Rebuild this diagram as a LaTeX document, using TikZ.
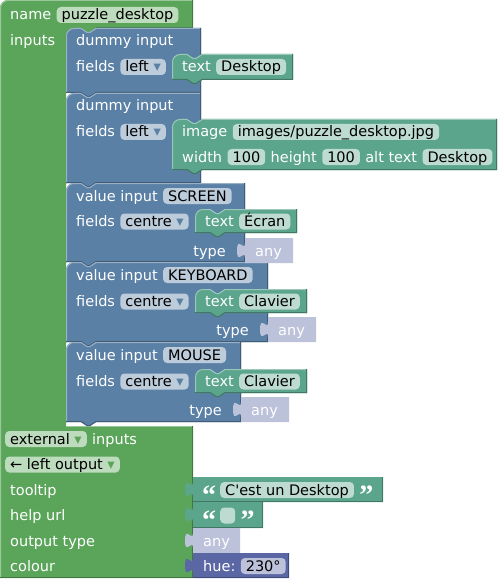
\documentclass[tikz,border=0pt]{standalone}
\usepackage{fontspec}
\setmainfont{DejaVu Sans}[Ligatures=TeXOff]
\newfontfamily\qfont{Liberation Serif}[Ligatures=TeXOff]
\definecolor{cgreen}{HTML}{5BA55B}
\definecolor{cblue}{HTML}{5B80A5}
\definecolor{cteal}{HTML}{5BA58C}
\definecolor{cpurple}{HTML}{5B67A5}
\definecolor{cany}{HTML}{BDC2DB}
\definecolor{fgreen}{HTML}{BDDBBD}
\definecolor{fblue}{HTML}{BDCCDB}
\definecolor{fteal}{HTML}{BDDBD1}
\definecolor{fpurple}{HTML}{BDC2DB}
\newcommand\stmt[5]{%
 \fill[#5] (#1,#4) -- (#1,#2+8) .. controls (#1,#2+3.6) and (#1+3.6,#2) .. (#1+8,#2) -- (#1+15,#2) -- (#1+21,#2+4) -- (#1+24,#2+4) -- (#1+30,#2) -- (#3,#2) -- (#3,#4) -- (#1+30,#4) -- (#1+24,#4+4) -- (#1+21,#4+4) -- (#1+15,#4) -- cycle;
 \draw[#5!62!white, line width=1pt] (#1+0.5,#4) -- (#1+0.5,#2+8) .. controls (#1+0.5,#2+4) and (#1+4,#2+0.5) .. (#1+8,#2+0.5) -- (#1+15,#2+0.5) -- (#1+21,#2+4.5) -- (#1+24,#2+4.5) -- (#1+30,#2+0.5) -- (#3-1,#2+0.5);
 \draw[#5!72!black, line width=1pt] (#1,#4-0.5) -- (#1+15,#4-0.5) -- (#1+21,#4+3.5) -- (#1+24,#4+3.5) -- (#1+30,#4-0.5) -- (#3-0.5,#4-0.5) -- (#3-0.5,#2);}
\newcommand\valb[6]{%
 \fill[#5] (#1,#2) -- (#3,#2) -- (#3,#4) -- (#1,#4) -- (#1,#2+20) .. controls (#1,#2+10) and (#1-8,#2+28) .. (#1-8,#2+12.5) .. controls (#1-8,#2-3) and (#1,#2+15) .. (#1,#2+5) -- cycle;
 \draw[#6, line width=1pt] (#1,#4-0.5) -- (#3-0.5,#4-0.5) -- (#3-0.5,#2);}
\tikzset{
 lbl/.style={inner sep=0pt, anchor=base west, text=white, font=\fontsize{14.5}{17}\selectfont},
 fld/.style={fill=#1, inner xsep=5pt, inner ysep=0pt, text height=13pt, text depth=3pt, rounded corners=4pt, anchor=base west, text=black, font=\fontsize{14.5}{17}\selectfont},
 qt/.style={inner sep=0pt, anchor=base west, text=white, font=\fontsize{28}{28}\qfont\bfseries},
}
\begin{document}
\begin{tikzpicture}[x=1pt,y=-1pt]
\useasboundingbox (0,0) rectangle (499,580);
% main block
\fill[cgreen] (0,578) -- (0,8) .. controls (0,3.6) and (3.6,0) .. (8,0) -- (193,0) -- (193,28) -- (96,28) -- (90,32) -- (87,32) -- (81,28) -- (74,28) .. controls (69.6,28) and (66,31.6) .. (66,36) -- (66,426) -- (193,426) -- (193,578) -- cycle;
\draw[cgreen!62!white, line width=1pt] (0.5,577) -- (0.5,8) .. controls (0.5,4) and (4,0.5) .. (8,0.5) -- (192,0.5);
\draw[cgreen!62!white, line width=1pt] (66,426.5) -- (192,426.5);
\draw[cgreen!72!black, line width=1pt] (192.5,0) -- (192.5,27.5) -- (96,27.5);
\draw[cgreen!72!black, line width=1pt] (0,577.5) -- (192.5,577.5) -- (192.5,426);
% input blocks
\stmt{66}{28}{201}{93}{cblue}
\stmt{66}{93}{201}{183}{cblue}
\stmt{66}{183}{245}{262}{cblue}
\stmt{66}{262}{268}{342}{cblue}
\stmt{66}{342}{241}{422}{cblue}
% field blocks
\stmt{172}{54}{293}{80}{cteal}
\stmt{172}{119}{497}{170}{cteal}
\stmt{195}{209}{297}{233}{cteal}
\stmt{195}{289}{307}{313}{cteal}
\stmt{195}{369}{307}{393}{cteal}
% type blocks
\valb{245}{238}{293}{263}{cany}{cany}
\valb{268}{317}{316}{342}{cany}{cany}
\valb{241}{397}{289}{422}{cany}{cany}
% bottom value blocks
\valb{193}{477}{383}{502}{cteal}{cteal!72!black}
\valb{193}{502}{263}{528}{cteal}{cteal!72!black}
\valb{193}{528}{240}{553}{cany}{cany}
\valb{193}{553}{289}{578}{cpurple}{cpurple!72!black}

% main texts
\node[lbl] (name) at (10,20) {name};
\node[fld=fgreen] (namev) at ([xshift=5pt]name.base east) {puzzle\_desktop};
\node[lbl] (inputs) at (10,46) {inputs};

% B1
\node[lbl] (d1) at (76,46) {dummy input};
\node[lbl] (f1) at (76,72) {fields};
\node[fld=fblue] (f1v) at ([xshift=5pt]f1.base east) {left~\textcolor{cblue}{▾}};
\node[lbl] (t1) at (182,72) {text};
\node[fld=fteal] (t1v) at ([xshift=5pt]t1.base east) {Desktop};

% B2
\node[lbl] (d2) at (76,111) {dummy input};
\node[lbl] (f2) at (76,137) {fields};
\node[fld=fblue] (f2v) at ([xshift=5pt]f2.base east) {left~\textcolor{cblue}{▾}};
\node[lbl] (im) at (182,137) {image};
\node[fld=fteal] (imv) at ([xshift=5pt]im.base east) {images/puzzle\_desktop.jpg};
\node[lbl] (wd) at (182,162) {width};
\node[fld=fteal] (wdv) at ([xshift=5pt]wd.base east) {100};
\node[lbl] (ht) at ([xshift=5pt]wdv.base east) {height};
\node[fld=fteal] (htv) at ([xshift=5pt]ht.base east) {100};
\node[lbl] (alt) at ([xshift=5pt]htv.base east) {alt text};
\node[fld=fteal] (altv) at ([xshift=5pt]alt.base east) {Desktop};

% B3
\node[lbl] (v3) at (76,201) {value input};
\node[fld=fblue] (v3v) at ([xshift=5pt]v3.base east) {SCREEN};
\node[lbl] (f3) at (76,226.5) {fields};
\node[fld=fblue] (f3v) at ([xshift=5pt]f3.base east) {centre~\textcolor{cblue}{▾}};
\node[lbl] (t3) at (205,226.5) {text};
\node[fld=fteal] (t3v) at ([xshift=5pt]t3.base east) {Écran};
\node[lbl, anchor=base east] (ty3) at (226,256) {type};
\node[lbl] (a3) at (255,256) {any};

% B4
\node[lbl] (v4) at (76,280) {value input};
\node[fld=fblue] (v4v) at ([xshift=5pt]v4.base east) {KEYBOARD};
\node[lbl] (f4) at (76,306.5) {fields};
\node[fld=fblue] (f4v) at ([xshift=5pt]f4.base east) {centre~\textcolor{cblue}{▾}};
\node[lbl] (t4) at (205,306.5) {text};
\node[fld=fteal] (t4v) at ([xshift=5pt]t4.base east) {Clavier};
\node[lbl, anchor=base east] (ty4) at (249,335.5) {type};
\node[lbl] (a4) at (278,335.5) {any};

% B5
\node[lbl] (v5) at (76,360) {value input};
\node[fld=fblue] (v5v) at ([xshift=5pt]v5.base east) {MOUSE};
\node[lbl] (f5) at (76,386.5) {fields};
\node[fld=fblue] (f5v) at ([xshift=5pt]f5.base east) {centre~\textcolor{cblue}{▾}};
\node[lbl] (t5) at (205,386.5) {text};
\node[fld=fteal] (t5v) at ([xshift=5pt]t5.base east) {Clavier};
\node[lbl, anchor=base east] (ty5) at (222,415.5) {type};
\node[lbl] (a5) at (251,415.5) {any};

% bottom rows
\node[fld=fgreen] (ext) at (5,444) {external~\textcolor{cgreen}{▾}};
\node[lbl] (inp2) at ([xshift=5pt]ext.base east) {inputs};
\node[fld=fgreen] (lo) at (5,469.5) {← left output~\textcolor{cgreen}{▾}};
\node[lbl] (tt) at (10,495) {tooltip};
\node[lbl] (hu) at (10,520.5) {help url};
\node[lbl] (ot) at (10,546) {output type};
\node[lbl] (co) at (10,571) {colour};

\node[qt] (q1) at (202,504) {“};
\node[fld=fteal] (ttv) at (220,495) {C'est un Desktop};
\node[qt] (q2) at ([shift={(5,9)}]ttv.base east) {”};
\node[qt] (q3) at (202,529.5) {“};
\node[fld=fteal, minimum width=15pt] (huv) at (220,520.5) {};
\node[qt] (q4) at ([shift={(5,9)}]huv.base east) {”};
\node[lbl] (anyb) at (203,546) {any};
\node[lbl] (hue) at (203,571) {hue:};
\node[fld=fpurple] (huev) at ([xshift=5pt]hue.base east) {230°};
\end{tikzpicture}
\end{document}
